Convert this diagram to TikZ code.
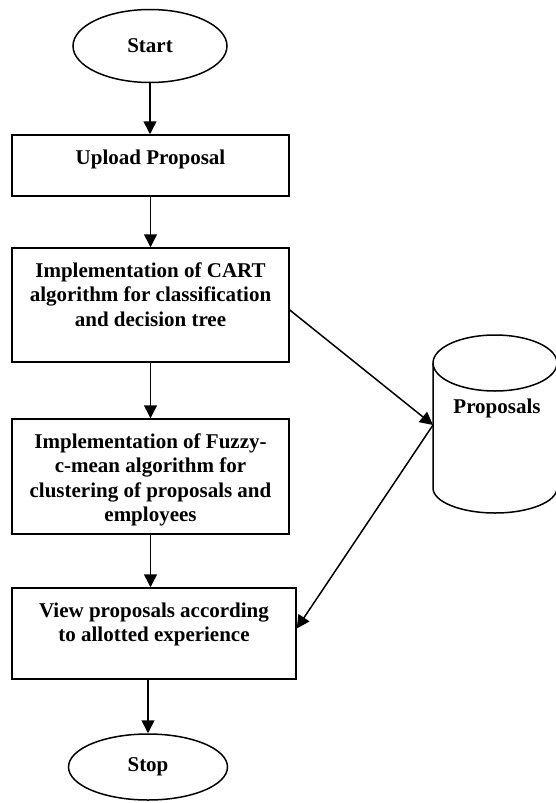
\documentclass[tikz,border=0pt]{standalone}
\usepackage{fontspec}
\setmainfont{Liberation Serif}
\usetikzlibrary{arrows.meta,shapes.geometric}
\begin{document}
\begin{tikzpicture}[x=1pt,y=-1pt,
  every node/.style={font=\bfseries\fontsize{21}{24.5}\selectfont},
  terminal/.style={draw,line width=1.5pt,ellipse,inner sep=0},
  procbox/.style={draw,line width=1.5pt,rectangle,inner sep=0},
  lbl/.style={anchor=north,inner sep=0,align=center,yshift=-15pt},
  flow/.style={line width=1.5pt,-{Triangle[length=13pt,width=13pt]}}]
\useasboundingbox (0,0) rectangle (556,803);
\node[terminal,minimum width=154,minimum height=73] (start) at (150,46) {Start};
\node[procbox,minimum width=277,minimum height=61] (upload) at (150.5,165.5) {};
\node[lbl] (uploadt) at (upload.north) {Upload Proposal};
\node[procbox,minimum width=277,minimum height=114] (cart) at (150.5,305) {};
\node[lbl] (cartt) at (cart.north) {Implementation of CART\\algorithm for classification\\and decision tree};
\node[procbox,minimum width=277,minimum height=115] (fuzzy) at (150.5,476.5) {};
\node[lbl] (fuzzyt) at (fuzzy.north) {Implementation of Fuzzy-\\c-mean algorithm for\\clustering of proposals and\\employees};
\node[procbox,minimum width=284,minimum height=91] (view) at (154,633.5) {};
\node[lbl] (viewt) at (view.north) {View proposals according\\to allotted experience};
\node[terminal,minimum width=159,minimum height=66] (stop) at (148,767) {Stop};
% cylinder
\draw[line width=1.5pt] (433,363) -- (433,488) arc[start angle=180,end angle=0,x radius=62,y radius=25]
  -- (557,363);
\draw[line width=1.5pt] (495,363) ellipse[x radius=62,y radius=28];
\node (db) at (497,408) {Proposals};
\coordinate (dbw) at (433,425);
% connectors
\draw[flow] (start.south) -- (start.south |- upload.north);
\draw[flow] (upload.south) -- (upload.south |- cart.north);
\draw[flow] (cart.south) -- (cart.south |- fuzzy.north);
\draw[flow] (fuzzy.south) -- (fuzzy.south |- view.north);
\draw[flow] ([xshift=-6pt]view.south) -- ([xshift=-6pt]view.south |- stop.north);
\draw[flow] ([yshift=-5pt]cart.east) -- (dbw);
\draw[flow] (dbw) -- ([yshift=5pt]view.east);
\end{tikzpicture}
\end{document}
